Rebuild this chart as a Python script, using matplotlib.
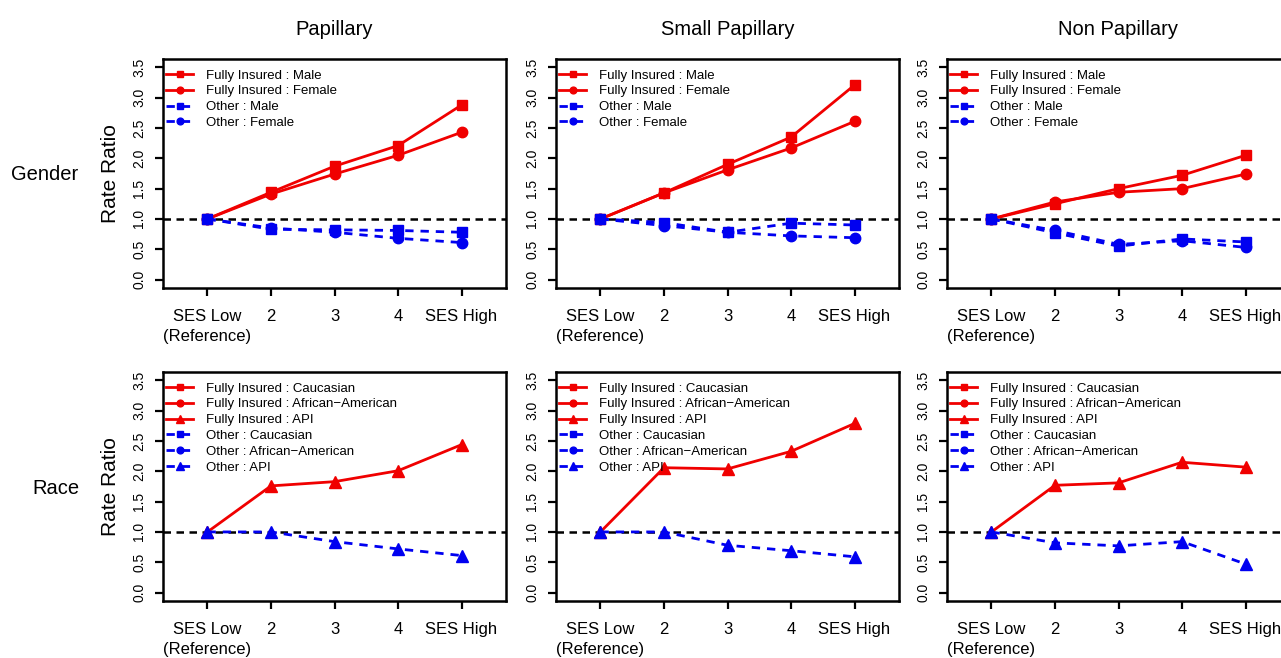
import matplotlib
matplotlib.use("Agg")
import matplotlib.pyplot as plt

plt.rcParams['font.family'] = ['Liberation Sans', 'DejaVu Sans']

# x categories (SES quintiles)
ses = [1, 2, 3, 4, 5]
ses_labels = ['SES Low\n(Reference)', '2', '3', '4', 'SES High']
cols = ['Papillary', 'Small Papillary', 'Non Papillary']

# gender rows: rate ratios per panel
fi_male = [[1.0, 1.44, 1.87, 2.21, 2.88],
           [1.0, 1.43, 1.90, 2.35, 3.21],
           [1.0, 1.25, 1.50, 1.72, 2.05]]
fi_female = [[1.0, 1.41, 1.74, 2.05, 2.43],
             [1.0, 1.43, 1.81, 2.17, 2.61],
             [1.0, 1.28, 1.44, 1.50, 1.74]]
oth_male = [[1.0, 0.83, 0.82, 0.81, 0.78],
            [1.0, 0.94, 0.78, 0.93, 0.90],
            [1.0, 0.77, 0.55, 0.67, 0.62]]
oth_female = [[1.0, 0.85, 0.78, 0.68, 0.61],
              [1.0, 0.89, 0.78, 0.72, 0.69],
              [1.0, 0.81, 0.58, 0.64, 0.53]]

# race rows: only API is drawn in the figure
fi_api = [[1.0, 1.76, 1.83, 2.01, 2.44],
          [1.0, 2.06, 2.04, 2.33, 2.79],
          [1.0, 1.77, 1.81, 2.15, 2.07]]
oth_api = [[1.0, 1.0, 0.84, 0.72, 0.61],
           [1.0, 1.0, 0.78, 0.69, 0.59],
           [1.0, 0.82, 0.77, 0.84, 0.47]]

W, H = 1281, 658
fig = plt.figure(figsize=(W / 100, H / 100), dpi=100)

lefts = [163, 556, 947]
tops = [59, 372]
aw, ah = 343, 229

red = '#f00000'
blue = '#0000f0'
dash = (0, (3.0, 2.5))
lw = 2.0


def style(ax, first):
    ax.set_xlim(0.3, 5.7)
    ax.set_ylim(-0.14, 3.64)
    ax.axhline(1.0, color='black', lw=1.8, ls=(0, (3.0, 2.2)), zorder=1)
    ax.set_xticks(ses)
    ax.set_xticklabels(ses_labels, fontsize=12, linespacing=1.45)
    ax.set_yticks([0, 0.5, 1, 1.5, 2, 2.5, 3, 3.5])
    ax.set_yticklabels(['0.0', '0.5', '1.0', '1.5', '2.0', '2.5', '3.0', '3.5'],
                       fontsize=10, rotation=90, va='center')
    ax.tick_params(axis='x', length=6, width=1.6, pad=9)
    ax.tick_params(axis='y', length=6, width=1.6, pad=6)
    for s in ax.spines.values():
        s.set_linewidth(1.8)
    if first:
        ax.set_ylabel('Rate Ratio', fontsize=15, labelpad=9)


for r in range(2):
    for c in range(3):
        ax = fig.add_axes([lefts[c] / W, 1 - (tops[r] + ah) / H, aw / W, ah / H])
        style(ax, c == 0)
        if r == 0:
            ax.plot(ses, fi_male[c], color=red, lw=lw, marker='s', ms=6.5, label='Fully Insured : Male')
            ax.plot(ses, fi_female[c], color=red, lw=lw, marker='o', ms=7.5, label='Fully Insured : Female')
            ax.plot(ses, oth_male[c], color=blue, lw=lw, ls=dash, marker='s', ms=6.5, label='Other : Male')
            ax.plot(ses, oth_female[c], color=blue, lw=lw, ls=dash, marker='o', ms=7.5, label='Other : Female')
            ax.set_title(cols[c], fontsize=14.5, pad=17)
        else:
            ax.plot([], [], color=red, lw=lw, marker='s', ms=6.5, label='Fully Insured : Caucasian')
            ax.plot([], [], color=red, lw=lw, marker='o', ms=7.5, label='Fully Insured : African\u2212American')
            ax.plot(ses, fi_api[c], color=red, lw=lw, marker='^', ms=8.5, label='Fully Insured : API')
            ax.plot([], [], color=blue, lw=lw, ls=dash, marker='s', ms=6.5, label='Other : Caucasian')
            ax.plot([], [], color=blue, lw=lw, ls=dash, marker='o', ms=7.5, label='Other : African\u2212American')
            ax.plot(ses, oth_api[c], color=blue, lw=lw, ls=dash, marker='^', ms=8.5, label='Other : API')
        ax.legend(loc='upper left', bbox_to_anchor=(0.01, 0.955), frameon=False, fontsize=9.5,
                  borderpad=0, borderaxespad=0, handlelength=2.0, handletextpad=1.0,
                  labelspacing=0.27, markerscale=0.65)

fig.text(45 / W, 1 - 175 / H, 'Gender', fontsize=14.5, ha='center', va='center')
fig.text(56 / W, 1 - 488 / H, 'Race', fontsize=14.5, ha='center', va='center')

fig.savefig('out.png', dpi=100)
